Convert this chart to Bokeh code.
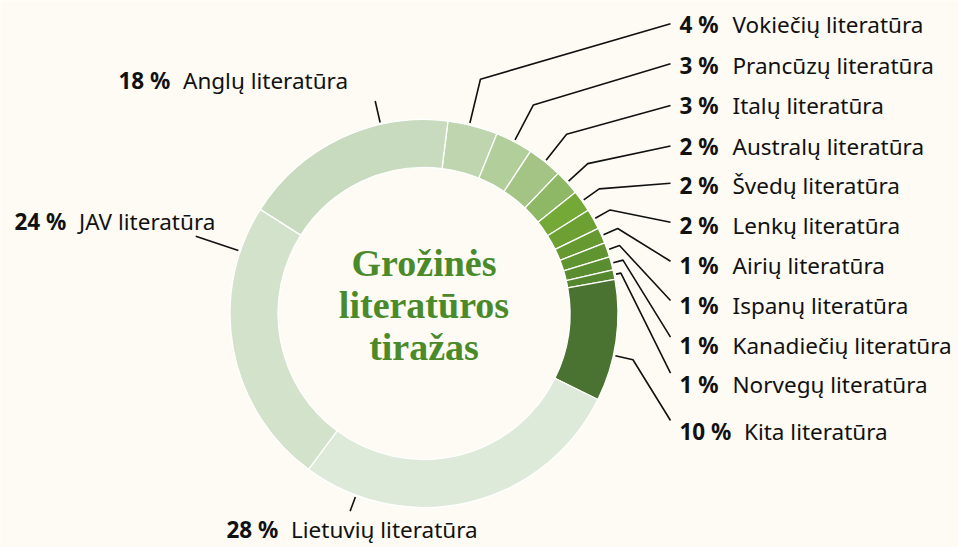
import math
from bokeh.plotting import figure
from bokeh.models import Range1d, ColumnDataSource
from bokeh.core.properties import value
from bokeh.embed import file_html
from bokeh.resources import INLINE

# ---------------- data ----------------
names = ["Vokiečių literatūra", "Prancūzų literatūra", "Italų literatūra",
         "Australų literatūra", "Švedų literatūra", "Lenkų literatūra",
         "Airių literatūra", "Ispanų literatūra", "Kanadiečių literatūra",
         "Norvegų literatūra", "Kita literatūra", "Lietuvių literatūra",
         "JAV literatūra", "Anglų literatūra"]
pct_labels = [4, 3, 3, 2, 2, 2, 1, 1, 1, 1, 10, 28, 24, 18]
# shares (percent)
shares = [4.15, 3.1, 2.9, 2.1, 1.8, 1.7, 1.3, 1.2, 1.1, 0.8, 10.1, 27.75, 23.8, 17.9]
colors = ["#bfd5b0", "#b2ce9b", "#a4c486", "#8eb766", "#74a937", "#6ca033",
          "#669a31", "#609430", "#5a8d2f", "#558630", "#4a7230", "#dde9d9",
          "#d3e2cb", "#c9dbbf"]
title_lines = ["Grožinės", "literatūros", "tiražas"]

# ---------------- layout (style) ----------------
W, H = 958, 547
CX, CY = 423.5, 313.0
R_OUT, R_IN = 194.0, 146.0
START_DEG = 7.1              # clockwise from 12 o'clock
BG = "#fdfbf4"
INK = "#111111"
GREEN = "#4a8a2a"
FONT = "Noto Sans"
FS = "22.5px"

side = ["r"] * 11 + ["l"] * 3
lab_x = [679] * 11 + [226, 14, 118]
lab_y = [24, 65, 105, 145.5, 185, 225, 265, 305, 345, 384, 431, 529, 221, 80]
anchor_frac = [0.43, 0.5, 0.5, 0.5, 0.5, 0.5, 0.5, 0.5, 0.5, 0.5, 0.62, 0.84, 0.84, 0.69]
elbow_r = [241, 235.5, 229, 222, 215, 213, 211.5, 207, 206, 201, 214, 211, 241, 218]
end_dy = [-0.7, -1.7, 0, 0, -2.3, -3.3, -4.3, -5, -8.3, -11.3, -11, 0, 0, 0]
LINE_END_X = 670


def Y(y):  # reference pixel row -> data y
    return H - y


def polar(r, deg):  # clockwise from top, in reference pixel coords
    a = math.radians(deg)
    return CX + r * math.sin(a), CY - r * math.cos(a)


total = sum(shares)
starts, ends = [], []
acc = START_DEG
for s in shares:
    starts.append(acc)
    acc += s / total * 360.0
    ends.append(acc)

p = figure(width=W, height=H, x_range=Range1d(0, W), y_range=Range1d(0, H),
           output_backend="svg", toolbar_location=None,
           x_axis_location=None, y_axis_location=None, min_border=0,
           background_fill_color=BG, border_fill_color=BG, outline_line_color=None)
p.grid.visible = False

# donut
src = ColumnDataSource(dict(
    start=[math.radians(90 - e) for e in ends],
    end=[math.radians(90 - s) for s in starts],
    color=colors))
p.annular_wedge(x=CX, y=Y(CY), inner_radius=R_IN, outer_radius=R_OUT,
                start_angle="start", end_angle="end", direction="anticlock",
                fill_color="color", line_color="white", line_width=1.3, source=src)

# leader lines
xs, ys = [], []
for i in range(len(shares)):
    ang = starts[i] + anchor_frac[i] * (ends[i] - starts[i])
    x0, y0 = polar(R_OUT + 2, ang)
    x1, y1 = polar(elbow_r[i], ang)
    if side[i] == "r":
        xs.append([x0, x1, LINE_END_X])
        ys.append([Y(y0), Y(y1), Y(lab_y[i] + end_dy[i])])
    else:
        xs.append([x0, x1])
        ys.append([Y(y0), Y(y1)])
p.multi_line(xs=xs, ys=ys, line_color=INK, line_width=1.6)

# labels
pct_txt = [f"{v} %" for v in pct_labels]
name_x = [lab_x[i] + (53 if pct_labels[i] < 10 else 64.5) for i in range(len(names))]
p.text(x=lab_x, y=[Y(v) for v in lab_y], text=pct_txt, text_font=value(FONT),
       text_font_style="bold", text_font_size=FS, text_color=INK,
       text_align="left", text_baseline="middle")
p.text(x=name_x, y=[Y(v) for v in lab_y], text=names, text_font=value(FONT),
       text_font_size=FS, text_color=INK, text_align="left", text_baseline="middle")

# centre title
p.text(x=[CX] * 3, y=[Y(262), Y(304), Y(346)], text=title_lines,
       text_font=value("Liberation Serif"), text_font_style="bold",
       text_font_size="38px", text_color=GREEN, text_align="center",
       text_baseline="middle")

open("out.html", "w").write(file_html(p, INLINE))
